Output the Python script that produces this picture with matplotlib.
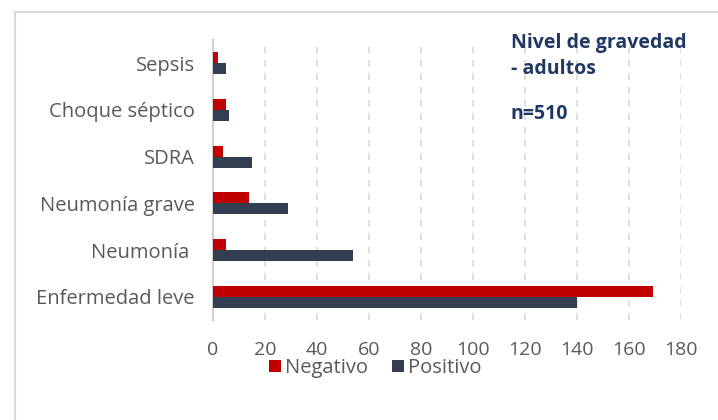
import numpy as np
import matplotlib.pyplot as plt
from matplotlib.lines import Line2D

plt.rcParams['font.family'] = ['Open Sans', 'DejaVu Sans']

categories = ['Sepsis', 'Choque séptico', 'SDRA', 'Neumonía grave', 'Neumonía ', 'Enfermedad leve']
negativo = [2, 5, 4, 14, 5, 169]
positivo = [5, 6, 15, 29, 54, 140]
xticks = [0, 20, 40, 60, 80, 100, 120, 140, 160, 180]

red = '#C00000'
dark = '#333F50'
txt = '#595959'

fig = plt.figure(figsize=(7.18, 4.2), dpi=100)
ax = fig.add_axes([0.2967, 0.238, 0.652, 0.667])

y = np.arange(len(categories))
h = 0.236
ax.barh(y - h / 2, negativo, height=h, color=red, label='Negativo', zorder=3)
ax.barh(y + h / 2, positivo, height=h, color=dark, label='Positivo', zorder=3)

ax.set_ylim(len(categories) - 0.5, -0.5)
ax.set_xlim(0, 180)
ax.set_yticks(y)
ax.set_yticklabels(categories, fontsize=14.5, color=txt)
ax.set_xticks(xticks)
ax.set_xticklabels([str(v) for v in xticks], fontsize=14, color=txt)
ax.tick_params(axis='y', length=0, pad=13)
ax.tick_params(axis='x', length=0, pad=15)

for s in ['top', 'right', 'bottom']:
    ax.spines[s].set_visible(False)
ax.spines['left'].set_color('#D0D0D0')
ax.spines['left'].set_linewidth(1.5)
ax.grid(axis='x', color='#D9D9D9', linestyle=(0, (4, 4)), linewidth=1.2, zorder=0)
ax.set_axisbelow(True)

title_color = '#203864'
fig.text(511 / 718, 1 - 43 / 420, 'Nivel de gravedad', fontsize=14, fontweight='bold',
         color=title_color, va='center', ha='left')
fig.text(511 / 718, 1 - 69 / 420, '- adultos', fontsize=14, fontweight='bold',
         color=title_color, va='center', ha='left')
fig.text(511 / 718, 1 - 114 / 420, 'n=510', fontsize=14, fontweight='bold',
         color=title_color, va='center', ha='left')

fig.legend(loc='center', bbox_to_anchor=(375 / 718, 1 - 368 / 420), ncol=2, frameon=False,
           fontsize=14.5, handlelength=0.6, handleheight=0.6, handletextpad=0.2,
           columnspacing=1.2, labelcolor=txt)

# chart-area border (only top and left visible in the crop)
fig.add_artist(Line2D([14.5 / 718, 14.5 / 718], [0, 1 - 12 / 420], transform=fig.transFigure,
                      color='#D9D9D9', linewidth=1.5))
fig.add_artist(Line2D([14.5 / 718, 1], [1 - 12 / 420, 1 - 12 / 420], transform=fig.transFigure,
                      color='#D9D9D9', linewidth=1.5))

fig.savefig('out.png', dpi=100)
